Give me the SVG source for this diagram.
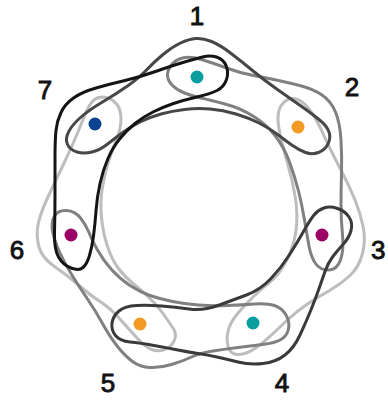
<svg xmlns="http://www.w3.org/2000/svg" width="388" height="403" viewBox="0 0 388 403">
<style>
.e{fill:none;stroke-width:3;stroke-linejoin:round;stroke-linecap:round}
.lt{stroke:#bdbdbd}.md{stroke:#808080}.dk{stroke:#474747}.dk2{stroke:#3a3a3a}.bk{stroke:#141414}
.lbl{font-family:"Liberation Sans",Arial,sans-serif;font-size:26px;fill:#111;stroke:#111;stroke-width:0.9;text-anchor:middle}
</style>
<rect width="388" height="403" fill="#fff"/>
<g id="connectors">
<path id="e567" class="e lt" d="M94,100 Q99,96 106,97.5 Q113,99 117,104.5 Q121,110 121,119 Q121,128 117,138 Q113,148 109,160 Q105,172 102.5,187 Q100,202 101.5,217.5 Q103,233 107.5,246.5 Q112,260 118.5,268.5 Q125,277 133,283.5 Q141,290 149,297.5 Q157,305 163,313.5 Q169,322 173,328 Q177,334 174.5,340 Q172,346 166,349 Q160,352 153,350 Q146,348 137,338 Q128,328 119,318 Q110,308 100,301.5 Q90,295 78.5,285 Q67,275 54.5,266.5 Q42,258 39,247 Q36,236 38,225 Q40,214 47.5,198 Q55,182 61,169.5 Q67,157 73,143.5 Q79,130 84,117 Q89,104 94,100 Z"/>
<path id="e234" class="e lt" d="M285.5,101 Q291,97 297.5,99.5 Q304,102 310.5,111 Q317,120 323,133.5 Q329,147 334.5,157.5 Q340,168 345,178 Q350,188 355,200 Q360,212 363,226 Q366,240 362.5,253.5 Q359,267 350,275.5 Q341,284 329.5,290.5 Q318,297 307.5,304 Q297,311 288.5,319 Q280,327 271.5,335 Q263,343 255,348.5 Q247,354 239,354.5 Q231,355 228.5,347.5 Q226,340 228,331.5 Q230,323 236.5,315 Q243,307 252.5,297.5 Q262,288 270.5,281.5 Q279,275 286.5,260.5 Q294,246 296,230.5 Q298,215 295.5,198.5 Q293,182 288,165 Q283,148 280,134 Q277,120 278.5,112.5 Q280,105 285.5,101 Z"/>
<path id="e123" class="e md" d="M167.5,76 Q167,71 171,65.5 Q175,60 182.5,58 Q190,56 201.5,59.5 Q213,63 226.5,68 Q240,73 253.5,75.5 Q267,78 278.5,80.5 Q290,83 301.5,86 Q313,89 322,95 Q331,101 335.5,112 Q340,123 341,140 Q342,157 341.5,173.5 Q341,190 341,205 Q341,220 342.5,235 Q344,250 340.5,260 Q337,270 328.5,270 Q320,270 315.5,263.5 Q311,257 309,246 Q307,235 304.5,220 Q302,205 298.5,191 Q295,177 289.5,162 Q284,147 275,135.5 Q266,124 253,116 Q240,108 225,104 Q210,100 201,98 Q192,96 184.5,93 Q177,90 172.5,85.5 Q168,81 167.5,76 Z"/>
<path id="e456" class="e md" d="M52.5,231 Q51,222 54.5,216 Q58,210 66.5,210.5 Q75,211 80.5,218 Q86,225 89,232.5 Q92,240 97.5,250 Q103,260 111.5,269.5 Q120,279 130,285.5 Q140,292 150,295.5 Q160,299 172.5,301.5 Q185,304 198.5,305 Q212,306 227,305.5 Q242,305 254.5,304 Q267,303 274.5,305.5 Q282,308 286,315 Q290,322 288.5,329 Q287,336 281,339.5 Q275,343 262.5,344.5 Q250,346 238,347.5 Q226,349 213,351 Q200,353 191.5,357 Q183,361 171.5,364.5 Q160,368 150,367.5 Q140,367 132.5,361.5 Q125,356 117.5,346.5 Q110,337 102.5,323.5 Q95,310 87.5,299 Q80,288 72.5,276 Q65,264 59.5,252 Q54,240 52.5,231 Z"/>
<path id="e712" class="e dk" d="M196,38.5 Q203,38 211.5,41.5 Q220,45 230.5,53 Q241,61 252.5,70.5 Q264,80 276,88.5 Q288,97 299.5,105 Q311,113 319,119.5 Q327,126 329,132 Q331,138 328,144 Q325,150 318.5,152.5 Q312,155 305.5,152.5 Q299,150 292.5,145.5 Q286,141 277.5,134.5 Q269,128 259,123 Q249,118 236,114 Q223,110 210,109 Q197,108 184.5,109.5 Q172,111 161,114 Q150,117 140,122 Q130,127 122,133 Q114,139 107,144.5 Q100,150 92,152 Q84,154 77,152 Q70,150 67.5,144.5 Q65,139 68.5,132 Q72,125 80.5,117.5 Q89,110 102.5,102 Q116,94 127.5,86 Q139,78 146.5,70 Q154,62 163,54.5 Q172,47 180.5,43 Q189,39 196,38.5 Z"/>
<path id="e345" class="e dk2" d="M314,215 Q318,210 324,208 Q330,206 337.5,208.5 Q345,211 349,217 Q353,223 351,230.5 Q349,238 343,244.5 Q337,251 332.5,257 Q328,263 325,271.5 Q322,280 318.5,290 Q315,300 310.5,311 Q306,322 300,335 Q294,348 285,355 Q276,362 263,363.5 Q250,365 238,362 Q226,359 217,357 Q208,355 198,353.5 Q188,352 178,350 Q168,348 154,345.5 Q140,343 130,342 Q120,341 115.5,335.5 Q111,330 112,323 Q113,316 119,311 Q125,306 136.5,305.5 Q148,305 161.5,306 Q175,307 189,309 Q203,311 218,305.5 Q233,300 246.5,295 Q260,290 270.5,279 Q281,268 289,255.5 Q297,243 303.5,231.5 Q310,220 314,215 Z"/>
<path id="e671" class="e bk" d="M202.5,57 Q210,55 216.5,57 Q223,59 226,65.5 Q229,72 226.5,79.5 Q224,87 217,90.5 Q210,94 197,97 Q184,100 173.5,103.5 Q163,107 153,112 Q143,117 135,123.5 Q127,130 120,138.5 Q113,147 108,158.5 Q103,170 100,183.5 Q97,197 96,211 Q95,225 93.5,236 Q92,247 89.5,255.5 Q87,264 83,267.5 Q79,271 71,268 Q63,265 58.5,257 Q54,249 54.5,232 Q55,215 55,195 Q55,175 55,157.5 Q55,140 56,130.5 Q57,121 61,112.5 Q65,104 73.5,98 Q82,92 96,88 Q110,84 125,80.5 Q140,77 157,71 Q174,65 184.5,62 Q195,59 202.5,57 Z"/>
</g>
<g id="node1"><circle cx="197" cy="77" r="6.5" fill="#0a9e9e"/><text class="lbl" x="197" y="25">1</text></g>
<g id="node2"><circle cx="298" cy="127" r="6.5" fill="#f39a25"/><text class="lbl" x="352" y="96">2</text></g>
<g id="node3"><circle cx="322" cy="235" r="6.5" fill="#9c0064"/><text class="lbl" x="371" y="259" style="text-anchor:start">3</text></g>
<g id="node4"><circle cx="253" cy="323" r="6.5" fill="#0a9e9e"/><text class="lbl" x="282" y="392">4</text></g>
<g id="node5"><circle cx="140" cy="324" r="6.5" fill="#f39a25"/><text class="lbl" x="108" y="392">5</text></g>
<g id="node6"><circle cx="71" cy="235" r="6.5" fill="#9c0064"/><text class="lbl" x="17" y="259">6</text></g>
<g id="node7"><circle cx="95" cy="124" r="6.5" fill="#0a4491"/><text class="lbl" x="45" y="99">7</text></g>
</svg>
